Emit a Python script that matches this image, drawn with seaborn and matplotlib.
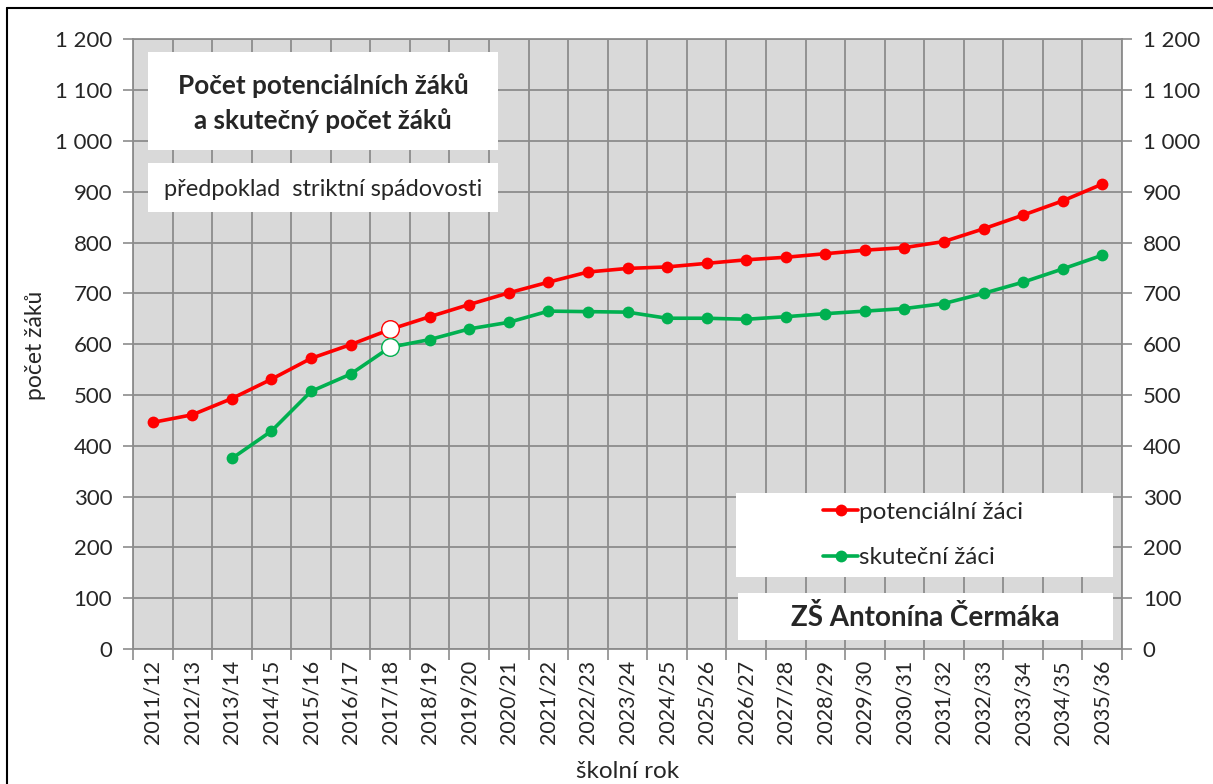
import matplotlib.pyplot as plt
import seaborn as sns
import numpy as np
import pandas as pd
from matplotlib.patches import Rectangle
from matplotlib.lines import Line2D
from matplotlib.ticker import FuncFormatter

# school years on the x axis
years = ['2011/12', '2012/13', '2013/14', '2014/15', '2015/16', '2016/17', '2017/18',
         '2018/19', '2019/20', '2020/21', '2021/22', '2022/23', '2023/24', '2024/25',
         '2025/26', '2026/27', '2027/28', '2028/29', '2029/30', '2030/31', '2031/32',
         '2032/33', '2033/34', '2034/35', '2035/36']

potencialni = [446, 461, 493, 531, 572, 599, 629, 654, 678, 701, 722, 742, 749, 752,
               759, 766, 771, 778, 785, 790, 802, 827, 854, 882, 915]
skutecni = [np.nan, np.nan, 375, 429, 507, 541, 594, 609, 630, 643, 665, 664, 663, 651,
            651, 649, 654, 660, 665, 670, 680, 700, 722, 748, 775]

highlight_year = '2017/18'  # open circles in both series

data = pd.DataFrame({'rok': years, 'pos': np.arange(len(years)),
                     'potencialni': potencialni, 'skutecni': skutecni})

sns.set_style("white")
plt.rcParams['font.family'] = ['Lato', 'DejaVu Sans']

RED = '#FF0000'
GREEN = '#00B050'
GRID = '#8C8C8C'
W, H = 1213, 784


def fx(px):
    return px / W


def fy(py):
    return 1 - py / H


fig = plt.figure(figsize=(W / 100, H / 100), dpi=100)
ax = fig.add_axes([fx(133), fy(649), fx(1122 - 133), (649 - 39.3) / H])
ax.set_facecolor('#D9D9D9')

sns.lineplot(data=data, x='pos', y='potencialni', ax=ax, color=RED, linewidth=2.6,
             marker='o', markersize=8.5, markeredgewidth=0, label='potenciální žáci',
             zorder=4)
sns.lineplot(data=data.dropna(), x='pos', y='skutecni', ax=ax, color=GREEN, linewidth=2.6,
             marker='o', markersize=8.5, markeredgewidth=0, label='skuteční žáci',
             zorder=4)

hl = data[data['rok'] == highlight_year]
sns.scatterplot(data=hl, x='pos', y='potencialni', ax=ax, s=160, color='white',
                edgecolor=RED, linewidth=1, zorder=5, legend=False)
sns.scatterplot(data=hl, x='pos', y='skutecni', ax=ax, s=160, color='white',
                edgecolor=GREEN, linewidth=1, zorder=5, legend=False)

n = len(years)
ax.set_xlim(-0.5, n - 0.5)
ax.set_ylim(0, 1200)
ax.set_xticks(np.arange(-0.5, n, 1))
ax.set_xticklabels([])
ax.set_xticks(np.arange(n), minor=True)
ax.set_xticklabels(years, minor=True, rotation=90, fontsize=15.5)
ax.set_yticks(np.arange(0, 1201, 100))
fmt = FuncFormatter(lambda v, p: f'{int(v):,}'.replace(',', ' '))
ax.yaxis.set_major_formatter(fmt)
ax.tick_params(axis='x', which='major', length=8, color=GRID, width=1.2, direction='out')
ax.tick_params(axis='x', which='minor', length=0, pad=8)
ax.tick_params(axis='y', length=7, color=GRID, width=1.2, labelsize=16, pad=8)
ax.tick_params(axis='both', bottom=True, left=True)
ax.grid(True, which='major', color=GRID, linewidth=1.3)
ax.set_axisbelow(True)
ax.set_xlabel('')
ax.set_ylabel('')
for s in ax.spines.values():
    s.set_color(GRID)
    s.set_linewidth(1.3)

ax2 = ax.twinx()
ax2.set_ylim(0, 1200)
ax2.set_yticks(np.arange(0, 1201, 100))
ax2.yaxis.set_major_formatter(fmt)
ax2.tick_params(axis='y', length=7, color=GRID, width=1.2, labelsize=16, pad=8, right=True)
for s in ax2.spines.values():
    s.set_visible(False)

# take the handles seaborn made and draw the legend on a white box instead
handles, labels = ax.get_legend_handles_labels()
ax.get_legend().remove()


def white_box(x0, y0, x1, y1):
    fig.add_artist(Rectangle((fx(x0), fy(y1)), fx(x1 - x0), (y1 - y0) / H,
                             transform=fig.transFigure, facecolor='white',
                             edgecolor='none', zorder=5))


white_box(148, 52, 498, 150)
fig.text(fx(323), fy(103), 'Počet potenciálních žáků\na skutečný počet žáků',
         ha='center', va='center', fontsize=18.8, fontweight='bold', linespacing=1.45,
         zorder=6)
white_box(148, 163, 498, 212)
fig.text(fx(323), fy(189), 'předpoklad  striktní spádovosti', ha='center', va='center',
         fontsize=17, zorder=6)

white_box(736, 493, 1113, 577)
leg = fig.legend(handles, labels, loc='center left',
                 bbox_to_anchor=(fx(823), fy(535)), frameon=False, fontsize=17.5,
                 handlelength=1.45, handletextpad=0.05, labelspacing=1.0,
                 borderaxespad=0, borderpad=0)
leg.set_zorder(6)

white_box(738, 593, 1113, 640)
fig.text(fx(925), fy(617), 'ZŠ Antonína Čermáka', ha='center', va='center',
         fontsize=20, fontweight='bold', zorder=6)

fig.text(fx(35), fy(345), 'počet žáků', rotation=90, ha='center', va='center',
         fontsize=16.5)
fig.text(fx(628), fy(772), 'školní rok', ha='center', va='center', fontsize=17.5)

# outer chart frame (top and left edges visible)
fig.add_artist(Line2D([fx(7), fx(7)], [0, fy(8)], color='black', linewidth=1.5,
                      transform=fig.transFigure))
fig.add_artist(Line2D([fx(7), 1], [fy(8), fy(8)], color='black', linewidth=1.5,
                      transform=fig.transFigure))

fig.savefig('out.png', dpi=100)
